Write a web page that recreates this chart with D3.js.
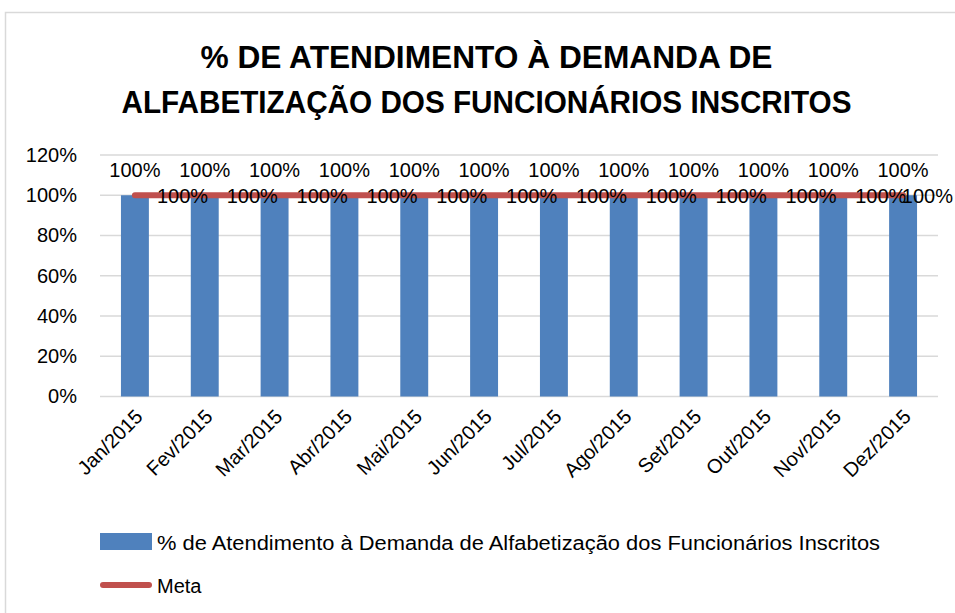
<!DOCTYPE html>
<html>
<head>
<meta charset="utf-8">
<script src="https://cdn.jsdelivr.net/npm/d3@7"></script>
<style>
  body { margin: 0; background: #fff; }
  text { font-family: "Liberation Sans", Arial, sans-serif; fill: #000; }
</style>
</head>
<body>
<div class="chart"></div>
<script>
var months = ["Jan/2015", "Fev/2015", "Mar/2015", "Abr/2015", "Mai/2015", "Jun/2015",
              "Jul/2015", "Ago/2015", "Set/2015", "Out/2015", "Nov/2015", "Dez/2015"];
var atendimento = [1, 1, 1, 1, 1, 1, 1, 1, 1, 1, 1, 1];
var meta = [1, 1, 1, 1, 1, 1, 1, 1, 1, 1, 1, 1];
var yTicks = [0, 0.2, 0.4, 0.6, 0.8, 1.0, 1.2];
var titleLines = ["% DE ATENDIMENTO À DEMANDA DE", "ALFABETIZAÇÃO DOS FUNCIONÁRIOS INSCRITOS"];
var seriesNames = ["% de Atendimento à Demanda de Alfabetização dos Funcionários Inscritos", "Meta"];

var W = 955, H = 613;
var plot = {left: 100, right: 938, top: 155, bottom: 396.5};

var svg = d3.select(".chart").append("svg")
    .attr("width", W)
    .attr("height", H);

// outer chart frame
svg.append("path")
    .attr("d", "M5.5," + H + "V12.5H" + W)
    .attr("fill", "none")
    .attr("stroke", "#d9d9d9")
    .attr("stroke-width", 1.5);

var x = d3.scaleBand()
    .domain(months)
    .range([plot.left, plot.right])
    .paddingInner(0.6)
    .paddingOuter(0.3);

var y = d3.scaleLinear()
    .domain([0, 1.2])
    .range([plot.bottom, plot.top]);

// title
svg.selectAll(".title")
    .data(titleLines)
    .enter().append("text")
    .attr("class", "title")
    .attr("x", (200 + 773) / 2)
    .attr("y", function(d, i) { return 68 + i * 45; })
    .attr("text-anchor", "middle")
    .attr("textLength", function(d, i) { return i === 0 ? 572 : 730; })
    .attr("lengthAdjust", "spacingAndGlyphs")
    .style("font-family", "'Liberation Sans Narrow', 'Liberation Sans', Arial, sans-serif")
    .style("font-weight", "bold")
    .style("font-size", "32px")
    .text(function(d) { return d; });

// gridlines
svg.append("g")
    .selectAll("line")
    .data(yTicks)
    .enter().append("line")
    .attr("x1", plot.left)
    .attr("x2", plot.right)
    .attr("y1", function(d) { return y(d); })
    .attr("y2", function(d) { return y(d); })
    .attr("stroke", "#d9d9d9")
    .attr("stroke-width", 1.5);

// y axis labels
var yAxis = d3.axisLeft(y)
    .tickValues(yTicks)
    .tickFormat(d3.format(".0%"))
    .tickSize(0)
    .tickPadding(0);

var yg = svg.append("g")
    .attr("transform", "translate(77,0)")
    .call(yAxis);
yg.select(".domain").remove();
yg.selectAll("text")
    .style("font-size", "20px")
    .style("font-family", "'Liberation Sans', Arial, sans-serif")
    .attr("fill", "#000");

// bars
svg.selectAll(".bar")
    .data(atendimento)
    .enter().append("rect")
    .attr("class", "bar")
    .attr("x", function(d, i) { return x(months[i]); })
    .attr("width", x.bandwidth())
    .attr("y", function(d) { return y(d); })
    .attr("height", function(d) { return y(0) - y(d); })
    .attr("fill", "#4f81bd");

// meta line
var line = d3.line()
    .x(function(d, i) { return x(months[i]) + x.bandwidth() / 2; })
    .y(function(d) { return y(d); });

svg.append("path")
    .datum(meta)
    .attr("d", line)
    .attr("fill", "none")
    .attr("stroke", "#c0504d")
    .attr("stroke-width", 6)
    .attr("stroke-linecap", "round");

// bar labels
svg.selectAll(".barLabel")
    .data(atendimento)
    .enter().append("text")
    .attr("class", "barLabel")
    .attr("x", function(d, i) { return x(months[i]) + x.bandwidth() / 2; })
    .attr("y", function(d) { return y(d) - 18.5; })
    .attr("text-anchor", "middle")
    .style("font-size", "20px")
    .text(d3.format(".0%"));

// meta labels (right of point, kept inside the chart like Excel does)
svg.selectAll(".metaLabel")
    .data(meta)
    .enter().append("text")
    .attr("class", "metaLabel")
    .attr("y", function(d) { return y(d) + 8; })
    .style("font-size", "20px")
    .text(d3.format(".0%"))
    .attr("x", function(d, i) {
        var px = x(months[i]) + x.bandwidth() / 2 + 22;
        var w = this.getComputedTextLength();
        return Math.min(px, W - 2 - w);
    });

// x labels
svg.selectAll(".xLabel")
    .data(months)
    .enter().append("text")
    .attr("class", "xLabel")
    .attr("transform", function(d) {
        return "translate(" + (x(d) + x.bandwidth() / 2 + 9) + ",418) rotate(-45)";
    })
    .attr("text-anchor", "end")
    .style("font-size", "20px")
    .text(function(d) { return d; });

// legend
var lg = svg.append("g");
lg.append("rect")
    .attr("x", 100).attr("y", 533)
    .attr("width", 52).attr("height", 17)
    .attr("fill", "#4f81bd");
lg.append("text")
    .attr("x", 157).attr("y", 550)
    .attr("textLength", 723)
    .attr("lengthAdjust", "spacingAndGlyphs")
    .style("font-size", "20px")
    .text(seriesNames[0]);
lg.append("line")
    .attr("x1", 103).attr("x2", 149)
    .attr("y1", 585).attr("y2", 585)
    .attr("stroke", "#c0504d")
    .attr("stroke-width", 6)
    .attr("stroke-linecap", "round");
lg.append("text")
    .attr("x", 157).attr("y", 593)
    .style("font-size", "20px")
    .text(seriesNames[1]);
</script>
</body>
</html>
